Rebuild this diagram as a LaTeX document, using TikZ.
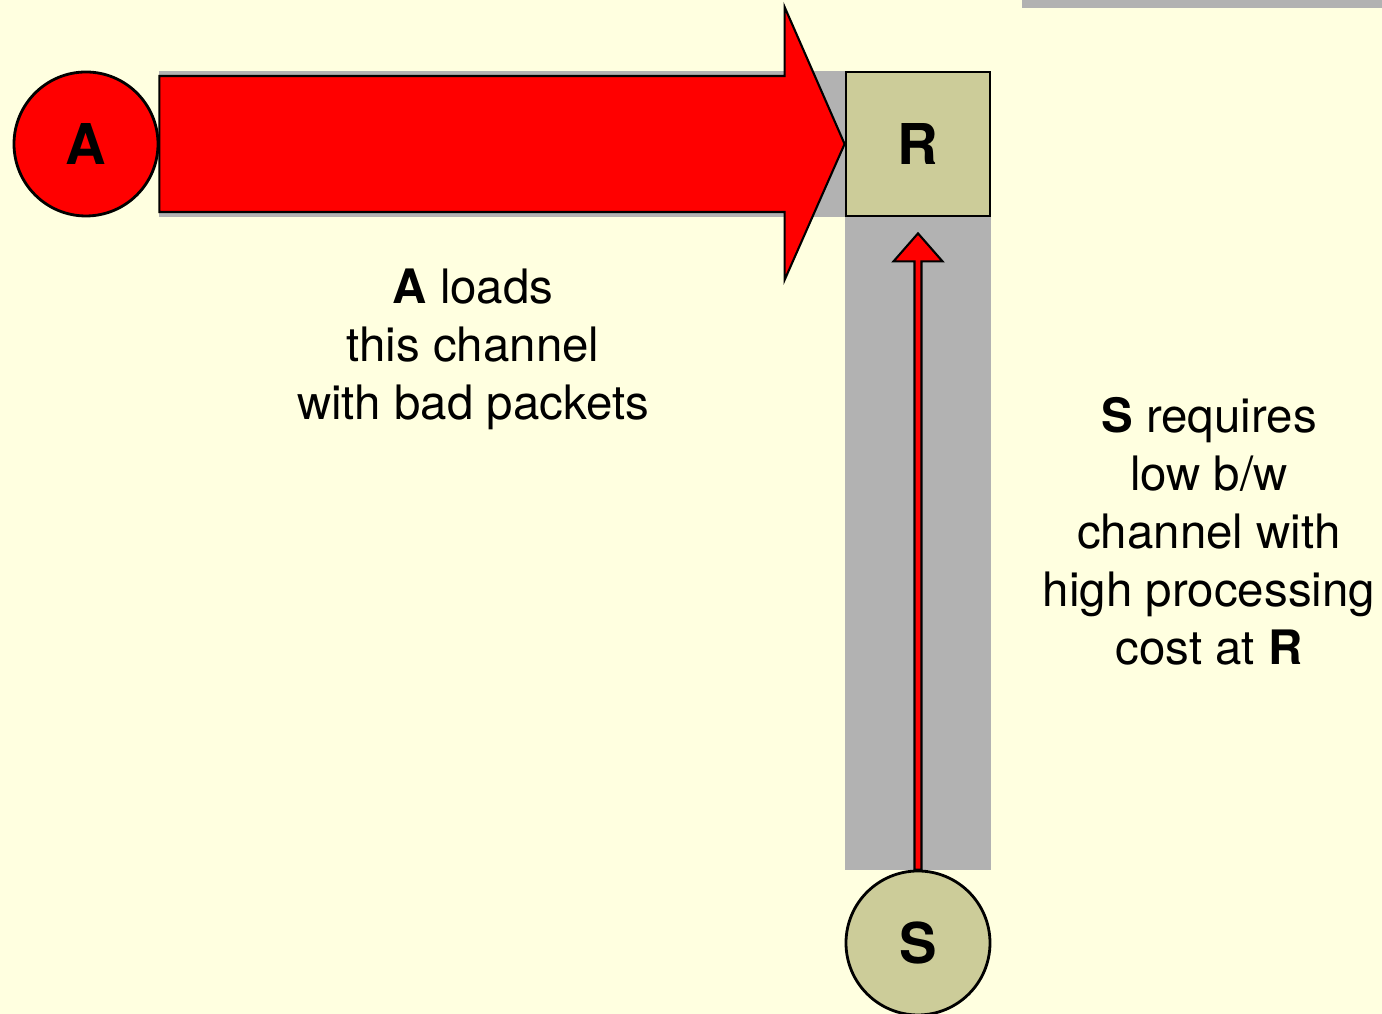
\documentclass[tikz,border=0pt]{standalone}
\usepackage{fontspec}
\setmainfont{TeX Gyre Heros}
\usetikzlibrary{calc, backgrounds}
\definecolor{cream}{HTML}{FFFFE0}
\definecolor{chgrey}{HTML}{B2B2B2}
\definecolor{khaki}{HTML}{CCCC99}
\definecolor{alarm}{HTML}{FF0000}
\tikzset{
  host/.style={circle, draw=black, line width=0.8pt, minimum size=1.44cm, inner sep=0pt,
    font=\fontsize{16}{19}\selectfont\bfseries},
  attacker/.style={host, fill=alarm},
  sender/.style={host, fill=khaki},
  router/.style={rectangle, draw=black, line width=0.8pt, fill=khaki, minimum size=1.44cm,
    inner sep=0pt, font=\fontsize{16}{19}\selectfont\bfseries},
  channel/.style={fill=chgrey},
  flood/.style={draw=black, line width=0.6pt, fill=alarm, line join=miter},
  trickle/.style={draw=black, line width=0.6pt, fill=alarm, line join=miter},
  note/.style={align=center, font=\fontsize{13.5}{16.5}\selectfont},
}

\begin{document}
\begin{tikzpicture}
\useasboundingbox (0,0) rectangle (13.82,10.14);

\node[attacker] (A) at (0.86,8.70) {A};
\node[router] (R) at (9.18,8.70) {R};
\node[sender] (S) at (9.18,0.71) {S};

% grey channels behind the arrows
\begin{pgfonlayer}{background}
\fill[cream] (0,0) rectangle (13.82,10.14);
\fill[channel] (10.22,10.06) rectangle (13.82,10.14);
\fill[channel] (A.east |- R.north) rectangle (R.south west);
\fill[channel] (R.south west) rectangle (R.east |- S.north);
\end{pgfonlayer}

% big flow from A
\draw[flood] ($(A.east)+(0,0.68)$) -- ($(R.west)+(-0.60,0.68)$) -- ($(R.west)+(-0.60,1.37)$)
  -- (R.west) -- ($(R.west)+(-0.60,-1.36)$) -- ($(R.west)+(-0.60,-0.68)$)
  -- ($(A.east)+(0,-0.68)$) -- cycle;

% thin flow from S
\draw[trickle] ($(S.north)+(-0.035,0)$) -- ($(R.south)+(-0.035,-0.44)$) -- ($(R.south)+(-0.245,-0.44)$)
  -- ($(R.south)+(0,-0.16)$) -- ($(R.south)+(0.245,-0.44)$) -- ($(R.south)+(0.035,-0.44)$)
  -- ($(S.north)+(0.035,0)$) -- cycle;

\node[note] (loadtxt) at (4.73,6.645) {\textbf{A} loads\\this channel\\with bad packets};
\node[note] (costtxt) at (12.09,4.83) {\textbf{S} requires\\low b/w\\channel with\\high processing\\cost at \textbf{R}};
\end{tikzpicture}
\end{document}
